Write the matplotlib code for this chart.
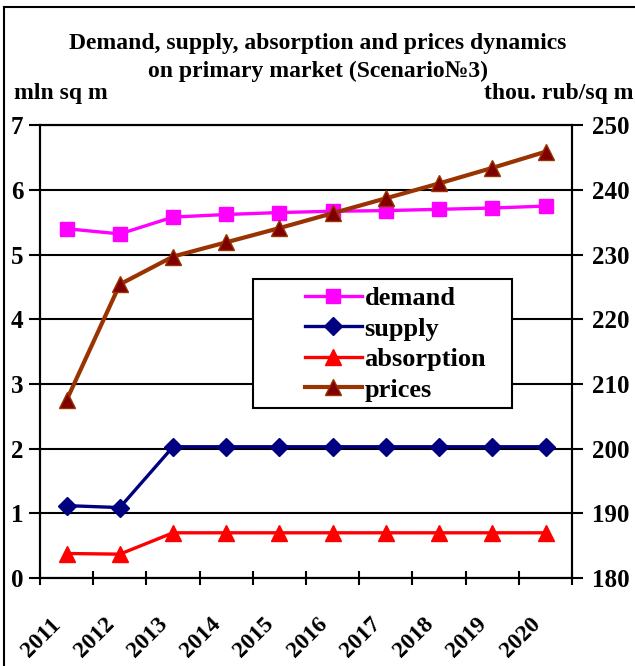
import matplotlib
matplotlib.use("Agg")
import matplotlib.pyplot as plt
from matplotlib.lines import Line2D
from matplotlib.patches import Rectangle

plt.rcParams["font.family"] = ["Liberation Serif", "DejaVu Serif"]
plt.rcParams["font.weight"] = "bold"

years = ["2011", "2012", "2013", "2014", "2015", "2016", "2017", "2018", "2019", "2020"]
demand = [5.40, 5.32, 5.58, 5.62, 5.65, 5.67, 5.68, 5.70, 5.72, 5.75]
supply = [1.12, 1.09, 2.03, 2.03, 2.03, 2.03, 2.03, 2.03, 2.03, 2.03]
absorption = [0.38, 0.37, 0.70, 0.70, 0.70, 0.70, 0.70, 0.70, 0.70, 0.70]
prices = [207.5, 225.4, 229.7, 231.9, 234.1, 236.4, 238.7, 241.0, 243.4, 245.9]

fig = plt.figure(figsize=(6.35, 6.66), dpi=100)
ax = fig.add_axes([0.063, 0.132, 0.838, 0.68])
ax2 = ax.twinx()

# outer frame of the chart area
fig.add_artist(Line2D([0.006, 0.006], [0.0, 0.99], color="black", lw=1.5, transform=fig.transFigure))
fig.add_artist(Line2D([0.006, 1.0], [0.99, 0.99], color="black", lw=1.5, transform=fig.transFigure))

xs = [i + 0.5 for i in range(len(years))]

ax.plot(xs, demand, color="#ff00ff", lw=2.4, marker="s", ms=10, label="demand")
ax.plot(xs, supply, color="#000080", lw=2.4, marker="D", ms=9, label="supply")
ax.plot(xs, absorption, color="#ff0000", lw=2.4, marker="^", ms=11, label="absorption")
ax2.plot(xs, prices, color="#993300", lw=3.0, marker="^", ms=11,
         markerfacecolor="#800000", markeredgecolor="#993300", label="prices")

ax.set_xlim(0, 10)
ax.set_ylim(0, 7)
ax2.set_ylim(180, 250)
ax.set_yticks(range(0, 8))
ax2.set_yticks(range(180, 251, 10))
ax.set_xticks(range(0, 11))
ax.set_xticklabels([])
for i, y in enumerate(years):
    ax.text(xs[i] - 0.3, -0.55, y, rotation=45, ha="right", va="top",
            rotation_mode="anchor", fontsize=17, fontweight="bold")

ax.grid(axis="y", color="black", lw=1.5)
ax.set_axisbelow(True)
for a in (ax, ax2):
    for s in a.spines.values():
        s.set_linewidth(1.5)
ax.tick_params(axis="x", direction="inout", length=10, width=1.5)
ax.tick_params(axis="y", direction="out", length=8, width=1.5, labelsize=18, pad=4)
ax2.tick_params(axis="y", direction="out", length=8, width=1.5, labelsize=18, pad=6)

# legend box, white so the grid is hidden behind it
box = Rectangle((0.400, 0.375), 0.487, 0.285, transform=ax2.transAxes,
                facecolor="white", edgecolor="black", lw=1.5, zorder=4)
ax2.add_patch(box)

h1, l1 = ax.get_legend_handles_labels()
h2, l2 = ax2.get_legend_handles_labels()
leg = ax2.legend(h1 + h2, l1 + l2, loc="upper left", bbox_to_anchor=(0.498, 0.644),
                 fontsize=19, frameon=False, handlelength=2.15, handletextpad=0.1,
                 labelspacing=0.27, borderpad=0, borderaxespad=0)
leg.set_zorder(5)

fig.text(0.5, 0.934, "Demand, supply, absorption and prices dynamics",
         ha="center", va="center", fontsize=17, fontweight="bold")
fig.text(0.5, 0.893, "on primary market (Scenario№3)",
         ha="center", va="center", fontsize=17, fontweight="bold")
fig.text(0.022, 0.86, "mln sq m", ha="left", va="center", fontsize=17, fontweight="bold")
fig.text(0.997, 0.86, "thou. rub/sq m", ha="right", va="center", fontsize=17, fontweight="bold")

fig.savefig("out.png", dpi=100)
